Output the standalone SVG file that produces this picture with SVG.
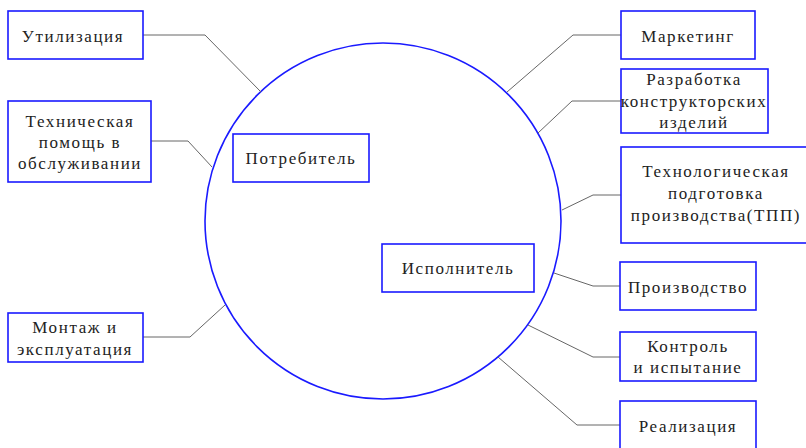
<svg xmlns="http://www.w3.org/2000/svg" width="806" height="448" viewBox="0 0 806 448">
  <style>
    .box { fill: #ffffff; stroke: #1a1aff; stroke-width: 1.6; }
    .ring { fill: none; stroke: #1a1aff; stroke-width: 1.6; }
    .link { fill: none; stroke: #666666; stroke-width: 1; }
    text { font-family: "Liberation Serif", "Times New Roman", serif; font-size: 17px; fill: #222222; text-anchor: middle; letter-spacing: 1.6px; }
  </style>
  <rect width="806" height="448" fill="#ffffff"/>

  <circle class="ring" cx="383" cy="221" r="178"/>

  <g id="connectors">
    <polyline class="link" points="143,35 205,35 261,92"/>
    <polyline class="link" points="151,141 188,141 212,167"/>
    <polyline class="link" points="143,337 190,337 225,305"/>
    <polyline class="link" points="621,35 573,35 507,92"/>
    <polyline class="link" points="621,101 572,101 538,133"/>
    <polyline class="link" points="621,195 593,195 562,210"/>
    <polyline class="link" points="620,286 593,286 554,273"/>
    <polyline class="link" points="620,357 593,357 528,325"/>
    <polyline class="link" points="620,425 577,425 498,357"/>
  </g>

  <g id="utilization">
    <rect class="box" x="8" y="11" width="135" height="48"/>
    <text x="73" y="42">Утилизация</text>
  </g>
  <g id="tech-support">
    <rect class="box" x="8" y="101" width="143" height="81"/>
    <text x="80" y="127">Техническая</text>
    <text x="80" y="148">помощь в</text>
    <text x="80" y="169">обслуживании</text>
  </g>
  <g id="installation">
    <rect class="box" x="8" y="313" width="135" height="49"/>
    <text x="75" y="333">Монтаж и</text>
    <text x="75" y="355">эксплуатация</text>
  </g>
  <g id="consumer">
    <rect class="box" x="233" y="134" width="136" height="48"/>
    <text x="301" y="164">Потребитель</text>
  </g>
  <g id="executor">
    <rect class="box" x="382" y="244" width="152" height="48"/>
    <text x="458" y="274">Исполнитель</text>
  </g>
  <g id="marketing">
    <rect class="box" x="621" y="11" width="134" height="48"/>
    <text x="688" y="42">Маркетинг</text>
  </g>
  <g id="design">
    <rect class="box" x="621" y="69" width="147" height="64"/>
    <text x="694" y="85">Разработка</text>
    <text x="694" y="107">конструкторских</text>
    <text x="694" y="128">изделий</text>
  </g>
  <g id="tpp">
    <rect class="box" x="621" y="147" width="190" height="96"/>
    <text x="716" y="177">Технологическая</text>
    <text x="716" y="199">подготовка</text>
    <text x="716" y="221">производства(ТПП)</text>
  </g>
  <g id="production">
    <rect class="box" x="620" y="262" width="136" height="48"/>
    <text x="688" y="293">Производство</text>
  </g>
  <g id="control">
    <rect class="box" x="620" y="332" width="136" height="49"/>
    <text x="688" y="352">Контроль</text>
    <text x="688" y="373">и испытание</text>
  </g>
  <g id="sales">
    <rect class="box" x="620" y="401" width="136" height="60"/>
    <text x="688" y="432">Реализация</text>
  </g>
</svg>
